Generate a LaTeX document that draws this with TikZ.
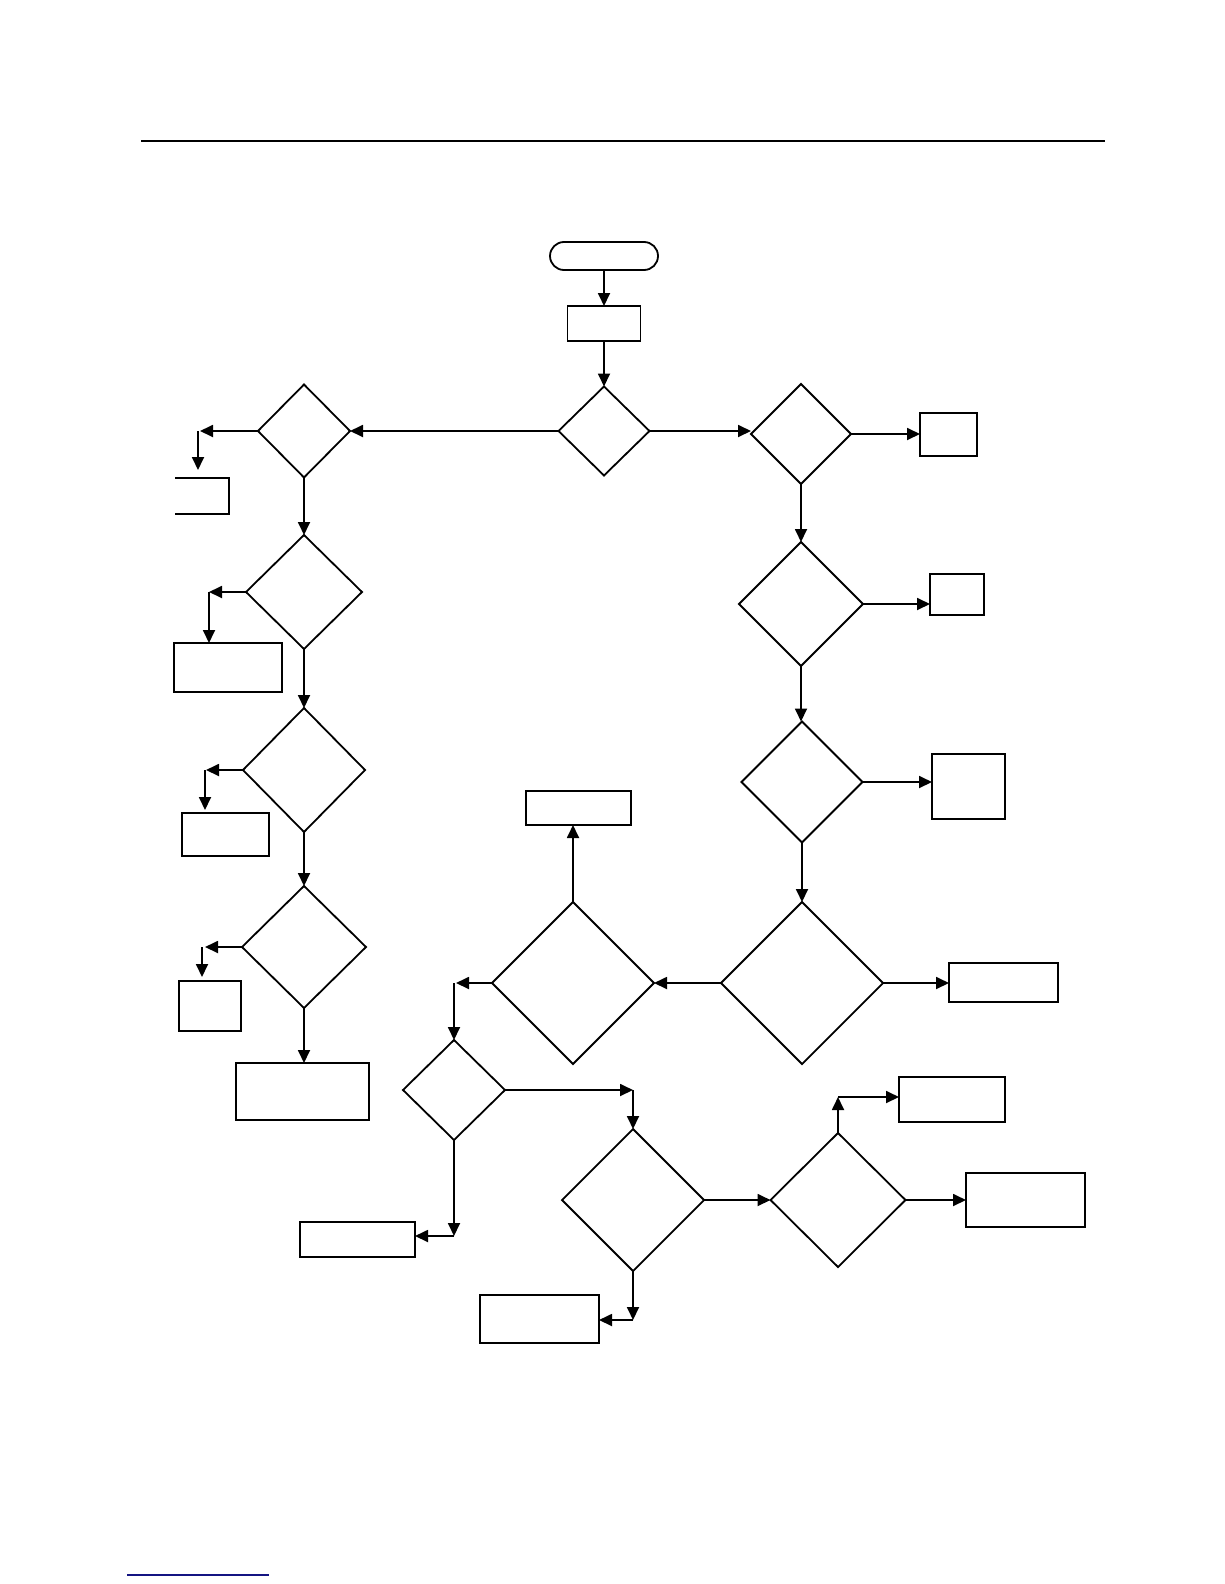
\documentclass[tikz,border=0pt]{standalone}
\usetikzlibrary{shapes.geometric,arrows.meta}
\begin{document}
\begin{tikzpicture}[x=1pt,y=-1pt,
  dia/.style={draw,diamond,inner sep=0pt,outer sep=0pt,line width=1.8pt},
  box/.style={draw,rectangle,inner sep=0pt,outer sep=0pt,line width=1.8pt},
  term/.style={draw,rectangle,rounded corners=14pt,inner sep=0pt,outer sep=0pt,line width=1.8pt},
  conn/.style={line width=1.8pt,-{Triangle[length=13pt,width=12pt]}},
  plain/.style={line width=1.8pt}]
\useasboundingbox (0,0) rectangle (1224,1584);
\fill[white] (0,0) rectangle (1224,1584);
% rules
\draw[line width=1.5pt] (141,141) -- (1105,141);
\draw[line width=1.2pt,color={rgb,255:red,20;green,20;blue,130}] (127,1575) -- (269,1575);
% nodes
\node[term,minimum width=108pt,minimum height=28pt] (start) at (604,256) {};
\node[box,minimum width=73pt,minimum height=35pt] (b0) at (604,323.5) {};
\node[dia,minimum width=91pt,minimum height=89pt] (D0) at (604,431) {};
\node[dia,minimum width=92pt,minimum height=93pt] (DL1) at (304,431) {};
\node[dia,minimum width=116pt,minimum height=114pt] (DL2) at (304,592) {};
\node[dia,minimum width=122pt,minimum height=124pt] (DL3) at (304,770) {};
\node[dia,minimum width=124pt,minimum height=122pt] (DL4) at (304,947) {};
\node[box,minimum width=108pt,minimum height=49pt] (boxL2) at (228,667.5) {};
\node[box,minimum width=87pt,minimum height=43pt] (boxL3) at (225.5,834.5) {};
\node[box,minimum width=62pt,minimum height=50pt] (boxL4) at (210,1006) {};
\node[box,minimum width=133pt,minimum height=57pt] (boxL5) at (302.5,1091.5) {};
\node[dia,minimum width=100pt,minimum height=100pt] (DR1) at (801,434) {};
\node[dia,minimum width=124pt,minimum height=124pt] (DR2) at (801,604) {};
\node[dia,minimum width=121pt,minimum height=121pt] (DR3) at (802,782) {};
\node[dia,minimum width=162pt,minimum height=162pt] (DR4) at (802,983) {};
\node[box,minimum width=57pt,minimum height=43pt] (boxR1) at (948.5,434.5) {};
\node[box,minimum width=54pt,minimum height=41pt] (boxR2) at (957,594.5) {};
\node[box,minimum width=73pt,minimum height=65pt] (boxR3) at (968.5,786.5) {};
\node[box,minimum width=109pt,minimum height=39pt] (boxR4) at (1003.5,982.5) {};
\node[dia,minimum width=162pt,minimum height=162pt] (DM) at (573,983) {};
\node[box,minimum width=105pt,minimum height=34pt] (boxM) at (578.5,808) {};
\node[dia,minimum width=102pt,minimum height=100pt] (DS) at (454,1090) {};
\node[box,minimum width=115pt,minimum height=35pt] (boxS) at (357.5,1239.5) {};
\node[dia,minimum width=142pt,minimum height=142pt] (DE) at (633,1200) {};
\node[box,minimum width=119pt,minimum height=48pt] (boxE) at (539.5,1319) {};
\node[dia,minimum width=135pt,minimum height=134pt] (DF) at (838,1200) {};
\node[box,minimum width=106pt,minimum height=45pt] (boxF1) at (952,1099.5) {};
\node[box,minimum width=119pt,minimum height=54pt] (boxF2) at (1025.5,1200) {};
% open box under DL1
\draw[plain] (175,478) -- (229,478) -- (229,514) -- (175,514);
% helper coordinates
\coordinate (cL1) at (200,431);
\coordinate (cL1b) at (198,431);
\coordinate (tL1) at (198,470);
\coordinate (cL2) at (209,592);
\coordinate (cL3) at (206,770);
\coordinate (cL3b) at (205,770);
\coordinate (tL3) at (205,810);
\coordinate (cL4) at (205,947);
\coordinate (cL4b) at (202,947);
\coordinate (tL4) at (202,977);
\coordinate (cM) at (456,983);
\coordinate (cMb) at (454,983);
\coordinate (cS) at (633,1089);
\coordinate (cS2) at (454,1236);
\coordinate (cE) at (633,1320);
\coordinate (cF) at (838,1097);
% connectors
\draw[conn] (start.south) -- (b0.north);
\draw[conn] (b0.south) -- (D0.north);
\draw[conn] (D0.west) -- (DL1.east);
\draw[conn] (D0.east) -- (D0.east -| DR1.west);
\draw[conn] (DL1.west) -- (cL1);
\draw[conn] (cL1b) -- (tL1);
\draw[conn] (DL1.south) -- (DL2.north);
\draw[conn] (DL2.west) -- (cL2);
\draw[conn] (cL2) -- (boxL2.north -| cL2);
\draw[conn] (DL2.south) -- (DL3.north);
\draw[conn] (DL3.west) -- (cL3);
\draw[conn] (cL3b) -- (tL3);
\draw[conn] (DL3.south) -- (DL4.north);
\draw[conn] (DL4.west) -- (cL4);
\draw[conn] (cL4b) -- (tL4);
\draw[conn] (DL4.south) -- (boxL5.north -| DL4.south);
\draw[conn] (DR1.east) -- (boxR1.west |- DR1.east);
\draw[conn] (DR1.south) -- (DR2.north);
\draw[conn] (DR2.east) -- (boxR2.west |- DR2.east);
\draw[conn] (DR2.south) -- (DR3.north -| DR2.south);
\draw[conn] (DR3.east) -- (boxR3.west |- DR3.east);
\draw[conn] (DR3.south) -- (DR4.north);
\draw[conn] (DR4.east) -- (boxR4.west |- DR4.east);
\draw[conn] (DR4.west) -- (DM.east);
\draw[conn] (DM.north) -- (boxM.south -| DM.north);
\draw[conn] (DM.west) -- (cM);
\draw[conn] (cMb) -- (DS.north);
\draw[conn] (DS.east) -- (DS.east -| cS);
\draw[conn] (DS.east -| cS) -- (DE.north);
\draw[conn] (DS.south) -- (cS2);
\draw[conn] (cS2) -- (boxS.east |- cS2);
\draw[conn] (DE.south) -- (cE);
\draw[conn] (cE) -- (boxE.east |- cE);
\draw[conn] (DE.east) -- (DF.west);
\draw[conn] (DF.north) -- (cF);
\draw[conn] (cF) -- (boxF1.west |- cF);
\draw[conn] (DF.east) -- (boxF2.west);
\end{tikzpicture}
\end{document}
